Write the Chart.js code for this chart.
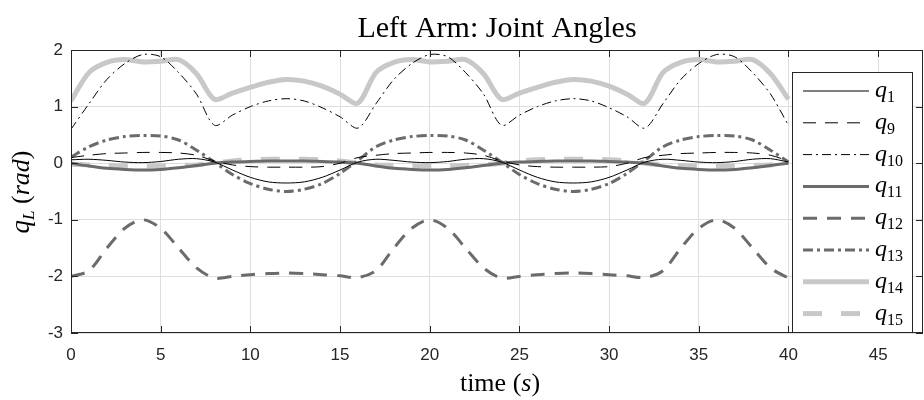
<!DOCTYPE html>
<html>
<head>
<meta charset="utf-8">
<script src="https://cdn.jsdelivr.net/npm/chart.js@4/dist/chart.umd.min.js"></script>
<style>
  html, body { margin:0; padding:0; background:#fff; }
</style>
</head>
<body>
<canvas id="jointChart" width="924" height="400"></canvas>
<script>
// time (s), one sample per second
const time = [0,1,2,3,4,5,6,7,8,9,10,11,12,13,14,15,16,17,18,19,20,21,22,23,24,25,26,27,28,29,30,31,32,33,34,35,36,37,38,39,40];

const q1  = [0.06,0.07,0.05,0.02,0.01,0.03,0.07,0.08,0.02,-0.12,-0.25,-0.33,-0.35,-0.33,-0.25,-0.12,0.02,
             0.07,0.05,0.02,0.01,0.03,0.07,0.08,0.02,-0.12,-0.25,-0.33,-0.35,-0.33,-0.25,-0.12,0.02,
             0.07,0.05,0.02,0.01,0.03,0.07,0.08,0.02];
const q9  = [0.10,0.14,0.17,0.18,0.19,0.19,0.18,0.14,0.04,-0.03,-0.06,-0.07,-0.07,-0.07,-0.06,0.00,0.10,
             0.14,0.17,0.18,0.19,0.19,0.18,0.14,0.04,-0.03,-0.06,-0.07,-0.07,-0.07,-0.06,0.00,0.10,
             0.14,0.17,0.18,0.19,0.19,0.18,0.14,0.04];
const q10 = [0.60,1.05,1.48,1.76,1.92,1.88,1.60,1.22,0.67,0.85,1.00,1.10,1.14,1.10,0.98,0.82,0.62,
             1.05,1.48,1.76,1.92,1.88,1.60,1.22,0.67,0.85,1.00,1.10,1.14,1.10,0.98,0.82,0.62,
             1.05,1.48,1.76,1.92,1.88,1.60,1.22,0.67];
const q11 = [0.00,-0.05,-0.09,-0.11,-0.12,-0.11,-0.08,-0.04,0.00,0.02,0.03,0.04,0.04,0.04,0.03,0.02,0.00,
             -0.05,-0.09,-0.11,-0.12,-0.11,-0.08,-0.04,0.00,0.02,0.03,0.04,0.04,0.04,0.03,0.02,0.00,
             -0.05,-0.09,-0.11,-0.12,-0.11,-0.08,-0.04,0.00];
const q12 = [-2.00,-1.90,-1.50,-1.15,-1.00,-1.15,-1.50,-1.85,-2.03,-2.00,-1.97,-1.95,-1.94,-1.95,-1.97,-1.99,-2.02,
             -1.90,-1.50,-1.15,-1.00,-1.15,-1.50,-1.85,-2.03,-2.00,-1.97,-1.95,-1.94,-1.95,-1.97,-1.99,-2.02,
             -1.90,-1.50,-1.15,-1.00,-1.15,-1.50,-1.85,-2.03];
const q13 = [0.11,0.29,0.41,0.47,0.49,0.48,0.41,0.23,0.02,-0.20,-0.36,-0.46,-0.50,-0.46,-0.36,-0.18,0.05,
             0.29,0.41,0.47,0.49,0.48,0.41,0.23,0.02,-0.20,-0.36,-0.46,-0.50,-0.46,-0.36,-0.18,0.05,
             0.29,0.41,0.47,0.49,0.48,0.41,0.23,0.02];
const q14 = [1.10,1.60,1.78,1.83,1.79,1.80,1.83,1.58,1.13,1.24,1.34,1.43,1.48,1.45,1.36,1.22,1.06,
             1.60,1.78,1.83,1.79,1.80,1.83,1.58,1.13,1.24,1.34,1.43,1.48,1.45,1.36,1.22,1.06,
             1.60,1.78,1.83,1.79,1.80,1.83,1.58,1.13];
const q15 = [-0.02,-0.03,-0.04,-0.05,-0.05,-0.05,-0.04,-0.03,0.00,0.04,0.06,0.07,0.07,0.07,0.06,0.04,0.00,
             -0.03,-0.04,-0.05,-0.05,-0.05,-0.04,-0.03,0.00,0.04,0.06,0.07,0.07,0.07,0.06,0.04,0.00,
             -0.03,-0.04,-0.05,-0.05,-0.05,-0.04,-0.03,0.00];

const seriesNames = ['1','9','10','11','12','13','14','15'];

const DARK = '#262626', MID = '#6b6b6b', LIGHT = '#c8c8c8';
const pts = arr => time.map((t, i) => ({ x: t, y: arr[i] }));

const datasets = [
  { data: pts(q1),  borderColor: '#000', borderWidth: 1, borderDash: [] },
  { data: pts(q9),  borderColor: '#000', borderWidth: 1, borderDash: [13, 9] },
  { data: pts(q10), borderColor: '#000', borderWidth: 1, borderDash: [9, 4, 2, 4] },
  { data: pts(q11), borderColor: MID, borderWidth: 3, borderDash: [] },
  { data: pts(q12), borderColor: MID, borderWidth: 3, borderDash: [14, 10] },
  { data: pts(q13), borderColor: MID, borderWidth: 3, borderDash: [10, 4, 3, 4] },
  { data: pts(q14), borderColor: LIGHT, borderWidth: 5, borderDash: [] },
  { data: pts(q15), borderColor: LIGHT, borderWidth: 5, borderDash: [19, 19] }
].map((d, i) => Object.assign(d, { label: 'q' + seriesNames[i], pointRadius: 0, fill: false, tension: 0.3 }));

const SERIF = '"Liberation Serif", "DejaVu Serif", serif';

// draws runs of [text, italic, size, baselineShift] left to right
function drawRuns(ctx, runs, x, y) {
  runs.forEach(r => {
    ctx.font = (r[1] ? 'italic ' : '') + r[2] + 'px ' + SERIF;
    ctx.fillText(r[0], x, y + (r[3] || 0));
    x += ctx.measureText(r[0]).width;
  });
  return x;
}
function runsWidth(ctx, runs) {
  let w = 0;
  runs.forEach(r => { ctx.font = (r[1] ? 'italic ' : '') + r[2] + 'px ' + SERIF; w += ctx.measureText(r[0]).width; });
  return w;
}

const decor = {
  id: 'decor',
  afterDraw(chart) {
    const ctx = chart.ctx, a = chart.chartArea;
    const xs = chart.scales.x, ys = chart.scales.y;
    ctx.save();
    ctx.strokeStyle = DARK;
    ctx.lineWidth = 1;
    // inward ticks
    ctx.beginPath();
    xs.ticks.forEach(t => {
      const px = Math.round(xs.getPixelForValue(t.value)) + 0.5;
      ctx.moveTo(px, a.bottom); ctx.lineTo(px, a.bottom - 7);
      ctx.moveTo(px, a.top); ctx.lineTo(px, a.top + 7);
    });
    ys.ticks.forEach(t => {
      const py = Math.round(ys.getPixelForValue(t.value)) + 0.5;
      ctx.moveTo(a.left, py); ctx.lineTo(a.left + 7, py);
      ctx.moveTo(a.right, py); ctx.lineTo(a.right - 7, py);
    });
    ctx.stroke();
    ctx.strokeRect(Math.round(a.left) + 0.5, Math.round(a.top) + 0.5,
                   Math.round(a.right - a.left) - 1, Math.round(a.bottom - a.top) - 1);

    // legend
    const lx = 792, ly = 72, lw = 120, lh = 260;
    ctx.fillStyle = '#fff';
    ctx.fillRect(lx, ly, lw, lh);
    ctx.strokeRect(lx + 0.5, ly + 0.5, lw, lh);
    chart.data.datasets.forEach((ds, i) => {
      const y = 91 + i * 31.8;
      ctx.save();
      ctx.strokeStyle = ds.borderColor;
      ctx.lineWidth = ds.borderWidth;
      ctx.setLineDash(ds.borderDash);
      ctx.beginPath();
      ctx.moveTo(803, y); ctx.lineTo(869, y);
      ctx.stroke();
      ctx.restore();
      ctx.fillStyle = '#000';
      ctx.textBaseline = 'alphabetic';
      ctx.textAlign = 'left';
      drawRuns(ctx, [['q', true, 24], [seriesNames[i], false, 16, 5]], 875, y + 6);
    });

    // title
    ctx.fillStyle = '#000';
    ctx.textAlign = 'center';
    ctx.textBaseline = 'alphabetic';
    ctx.font = '30px ' + SERIF;
    ctx.fillText('Left Arm: Joint Angles', (a.left + a.right) / 2, 37);

    // x label
    ctx.textAlign = 'left';
    const xr = [['time (', false, 26], ['s', true, 26], [')', false, 26]];
    drawRuns(ctx, xr, 500 - runsWidth(ctx, xr) / 2, 391);

    // y label
    const yr = [['q', true, 27], ['L', true, 17, 5], [' (', false, 26], ['rad', true, 26], [')', false, 26]];
    ctx.translate(29, 192);
    ctx.rotate(-Math.PI / 2);
    drawRuns(ctx, yr, -runsWidth(ctx, yr) / 2, 0);
    ctx.restore();
  }
};

new Chart(document.getElementById('jointChart'), {
  type: 'line',
  data: { datasets: datasets },
  options: {
    responsive: false,
    animation: false,
    devicePixelRatio: 1,
    layout: { padding: { top: 50, right: 1, left: 0, bottom: 0 } },
    plugins: { legend: { display: false }, title: { display: false }, tooltip: { enabled: false } },
    scales: {
      x: {
        type: 'linear', min: 0, max: 47.5,
        afterFit: s => { s.height = 67; },
        grid: { color: '#dedede', drawTicks: false },
        border: { display: false },
        ticks: { stepSize: 5, includeBounds: false, padding: 12, color: DARK,
                 font: { family: '"Liberation Sans", Arial, sans-serif', size: 17 } }
      },
      y: {
        min: -3, max: 2,
        afterFit: s => { s.width = 71; },
        grid: { color: '#dedede', drawTicks: false },
        border: { display: false },
        ticks: { stepSize: 1, padding: 8, color: DARK,
                 font: { family: '"Liberation Sans", Arial, sans-serif', size: 17 } }
      }
    }
  },
  plugins: [decor]
});
</script>
</body>
</html>
